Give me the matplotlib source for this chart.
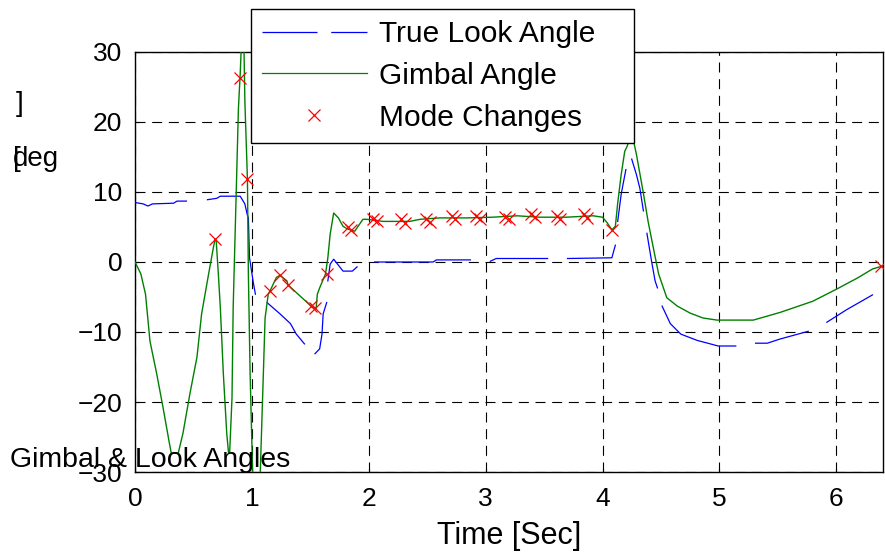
import numpy as np
import matplotlib
matplotlib.use("Agg")
import matplotlib.pyplot as plt
from matplotlib.lines import Line2D

plt.rcParams['font.family'] = ['Liberation Sans', 'DejaVu Sans']

# ---- data ----
gimbal_t = [0, 0.05, 0.09, 0.128, 0.186, 0.24, 0.29, 0.31, 0.37, 0.41, 0.47, 0.53, 0.57, 0.63,
            0.67, 0.685, 0.695, 0.713, 0.73, 0.756, 0.785, 0.80, 0.81, 0.83, 0.84, 0.87, 0.885,
            0.90, 0.915, 0.93, 0.94, 0.962, 0.97, 0.985, 1.007, 1.04, 1.07, 1.085, 1.10, 1.113,
            1.14, 1.156, 1.21, 1.24, 1.30, 1.31, 1.52, 1.55, 1.56, 1.58, 1.63, 1.65, 1.67, 1.70,
            1.74, 1.78, 1.82, 1.88, 1.95, 1.98, 2.04, 2.12, 2.24, 2.35, 2.44, 2.61, 2.84, 3.06,
            3.27, 3.46, 3.69, 3.92, 4.00, 4.04, 4.08, 4.11, 4.13, 4.16, 4.19, 4.21, 4.25, 4.29,
            4.35, 4.39, 4.44, 4.48, 4.55, 4.64, 4.75, 4.86, 4.98, 5.29, 5.52, 5.80, 6.00, 6.18,
            6.31, 6.39]
gimbal_v = [0, -1.7, -4.6, -11.3, -16.0, -20.8, -25.5, -27.3, -27.3, -24.5, -18.8, -13.6, -7.4, -1.7,
            2.0, 3.3, 3.0, -1.7, -6.5, -16.0, -24.5, -27.2, -27.2, -19.4, -6.5, 12.5, 22.0,
            26.8, 33.0, 33.0, 23.0, 11.8, -1.7, -16.0, -30.5, -31.0, -31.0, -23.0, -15.0, -8.0,
            -4.6, -4.1, -2.2, -1.9, -2.7, -3.3, -6.5, -6.6, -4.6, -3.7, -1.7, 0.6, 4.0, 7.0,
            6.3, 5.1, 4.7, 4.4, 6.1, 6.1, 6.0, 5.8, 5.8, 5.8, 6.1, 6.3, 6.3, 6.4,
            6.6, 6.4, 6.4, 6.6, 6.4, 5.6, 4.6, 5.1, 8.4, 12.5, 15.8, 16.5, 18.5, 15.4,
            9.8, 5.8, 1.6, -1.7, -5.1, -6.3, -7.3, -8.0, -8.3, -8.3, -7.2, -5.6, -3.9, -2.3,
            -1.0, -0.6]

# True look angle (NaN marks the breaks seen in the reference)
look_t = [0, 0.07, 0.11, 0.15, 0.33, 0.36, 0.44, np.nan,
          0.62, 0.70, 0.73, 0.90, 0.94, 0.96, 0.97, 0.98, 1.01, 1.03, np.nan,
          1.13, 1.24, 1.33, 1.38, 1.45, np.nan,
          1.54, 1.58, 1.60, 1.61, 1.64, np.nan,
          1.65, 1.67, 1.70, 1.78, 1.86, 1.90, np.nan,
          2.05, 2.55, 2.58, 2.87, np.nan,
          3.04, 3.09, 3.53, np.nan,
          3.70, 4.08, 4.11, np.nan,
          4.13, 4.16, 4.20, np.nan,
          4.25, 4.29, 4.32, 4.35, np.nan,
          4.38, 4.42, 4.45, 4.47, np.nan,
          4.51, 4.58, 4.67, 4.81, 4.99, 5.14, np.nan,
          5.31, 5.41, 5.52, 5.76, np.nan,
          5.92, 6.09, 6.31]
look_v = [8.5, 8.3, 8.0, 8.3, 8.4, 8.7, 8.7, np.nan,
          8.9, 9.1, 9.4, 9.4, 8.3, 6.8, 6.3, 0.6, -2.7, -4.6, np.nan,
          -5.8, -7.4, -8.8, -10.3, -11.7, np.nan,
          -13.1, -12.4, -10.3, -7.4, -5.8, np.nan,
          -2.7, -0.3, 0.4, -1.3, -1.3, -0.7, np.nan,
          0.0, 0.0, 0.3, 0.3, np.nan,
          0.1, 0.5, 0.5, np.nan,
          0.5, 0.6, 2.4, np.nan,
          5.8, 9.7, 13.2, np.nan,
          14.7, 12.5, 10.5, 7.3, np.nan,
          4.1, 0.1, -2.7, -3.7, np.nan,
          -6.3, -8.8, -10.3, -11.2, -12.0, -12.0, np.nan,
          -11.6, -11.6, -11.0, -9.9, np.nan,
          -8.6, -6.8, -4.7]

mode_t = [0.685, 0.90, 0.962, 1.156, 1.24, 1.31, 1.51, 1.54, 1.64,
          1.82, 1.85, 2.04, 2.07, 2.28, 2.31, 2.49, 2.52, 2.71, 2.74, 2.92, 2.95,
          3.17, 3.20, 3.39, 3.42, 3.61, 3.64, 3.84, 3.87, 4.08, 6.38]
mode_v = [3.3, 26.3, 11.9, -4.1, -1.9, -3.3, -6.3, -6.6, -1.7,
          5.0, 4.6, 6.2, 5.8, 6.1, 5.6, 6.1, 5.7, 6.5, 6.1, 6.6, 6.2,
          6.4, 6.1, 6.8, 6.4, 6.5, 6.1, 6.8, 6.3, 4.6, -0.6]

xticks = [0, 1, 2, 3, 4, 5, 6]
yticks = [-30, -20, -10, 0, 10, 20, 30]

W, H = 885, 553
fig = plt.figure(figsize=(W / 100, H / 100), dpi=100)
ax = fig.add_axes([135 / W, 1 - 472 / H, (883 - 135) / W, (472 - 52) / H])

ax.plot(look_t, look_v, color='#0000ff', lw=0.9, zorder=3)
ax.plot(gimbal_t, gimbal_v, color='#008000', lw=1.0, zorder=3)
ax.plot(mode_t, mode_v, 'x', color='#ff0000', ms=8, mew=0.9, zorder=4)

ax.set_xlim(0, 6.4)
ax.set_ylim(-30, 30)
ax.set_xticks(xticks)
ax.set_yticks(yticks)
ax.tick_params(direction='in', length=3, width=0.8, labelsize=19)
ax.tick_params(axis='x', pad=11)
ax.tick_params(axis='y', pad=9)
ax.grid(True, color='black', linestyle=(0, (9, 6)), lw=0.8)
for s in ax.spines.values():
    s.set_color('black')
    s.set_linewidth(1.0)

ax.set_xlabel('Time [Sec]', fontsize=22, labelpad=7)

# garbled y label pieces as in the reference
fig.text(10 / W, 1 - 460 / H, 'Gimbal & Look Angles', fontsize=20.5, va='center', ha='left')
fig.text(16 / W, 1 - 104 / H, ']', fontsize=20, va='center', ha='left')
fig.text(13 / W, 1 - 159 / H, '[', fontsize=20, va='center', ha='left')
fig.text(13 / W, 1 - 159 / H, 'deg', fontsize=20, va='center', ha='left')

handles = [Line2D([], [], color='#0000ff', lw=0.9, dashes=(44, 11)),
           Line2D([], [], color='#008000', lw=0.9),
           Line2D([], [], color='#ff0000', ls='none', marker='x', ms=8, mew=0.9)]
labels = ['True Look Angle', 'Gimbal Angle', 'Mode Changes']
leg = ax.legend(handles, labels, loc='upper left',
                bbox_to_anchor=(251 / W, 1 - 143 / H, 383 / W, 134 / H),
                bbox_transform=fig.transFigure, borderaxespad=0, fontsize=21.5,
                mode='expand', handlelength=3.5, handletextpad=0.4, labelspacing=0.46,
                borderpad=0.37, fancybox=False, framealpha=1, edgecolor='black', numpoints=1)
leg.get_frame().set_linewidth(1.0)
leg.set_zorder(10)

fig.savefig('out.png', dpi=100)
